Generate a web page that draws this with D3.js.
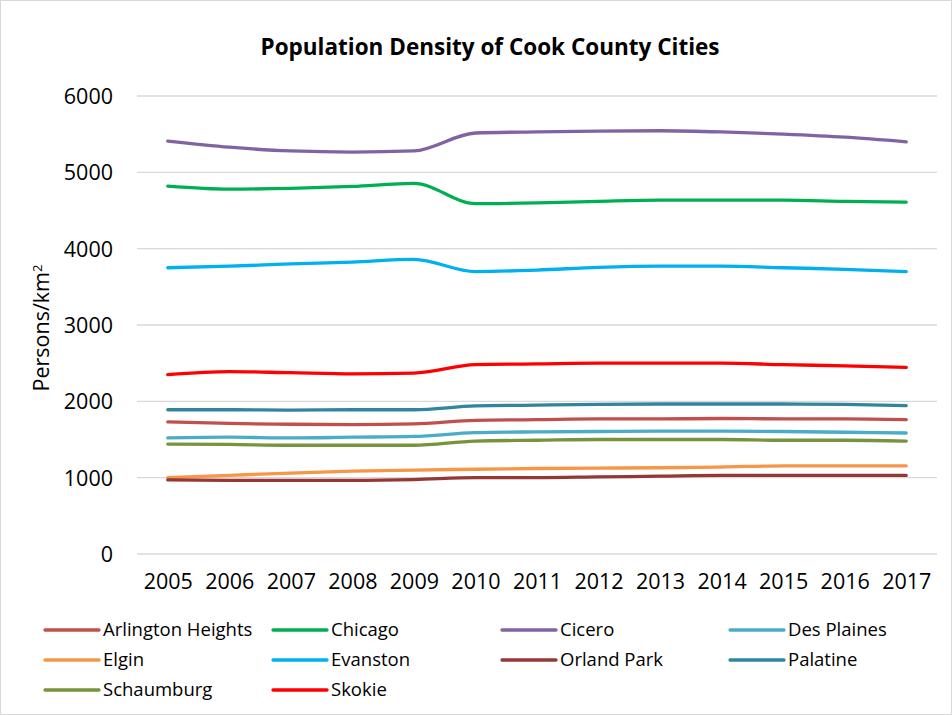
<!DOCTYPE html>
<html>
<head>
<meta charset="utf-8">
<script src="https://cdn.jsdelivr.net/npm/d3@7"></script>
<style>
  html, body { margin: 0; padding: 0; background: #fff; }
  text { font-family: "Open Sans", "Noto Sans", sans-serif; fill: #000; }
</style>
</head>
<body>
<div class="d3Chart"></div>
<script>
//#region data

var years = ["2005", "2006", "2007", "2008", "2009", "2010", "2011", "2012", "2013", "2014", "2015", "2016", "2017"];
var yTicks = [0, 1000, 2000, 3000, 4000, 5000, 6000];

var cities = ["Arlington Heights", "Chicago", "Cicero", "Des Plaines", "Elgin", "Evanston", "Orland Park", "Palatine", "Schaumburg", "Skokie"];

var arlingtonHeights = [1730, 1710, 1700, 1695, 1705, 1750, 1760, 1770, 1770, 1775, 1770, 1770, 1760];
var chicago = [4820, 4780, 4790, 4815, 4855, 4590, 4600, 4620, 4635, 4635, 4635, 4620, 4610];
var cicero = [5410, 5330, 5280, 5265, 5280, 5515, 5530, 5540, 5545, 5530, 5500, 5460, 5400];
var desPlaines = [1520, 1530, 1520, 1530, 1540, 1590, 1600, 1605, 1610, 1610, 1605, 1595, 1585];
var elgin = [1000, 1030, 1060, 1085, 1100, 1110, 1120, 1125, 1130, 1140, 1155, 1155, 1155];
var evanston = [3750, 3770, 3800, 3825, 3860, 3700, 3720, 3755, 3770, 3770, 3750, 3730, 3700];
var orlandPark = [970, 965, 965, 965, 975, 1000, 1000, 1010, 1020, 1030, 1030, 1030, 1030];
var palatine = [1890, 1890, 1885, 1890, 1890, 1940, 1950, 1960, 1965, 1965, 1965, 1960, 1945];
var schaumburg = [1440, 1435, 1425, 1425, 1425, 1480, 1490, 1500, 1500, 1500, 1490, 1490, 1480];
var skokie = [2350, 2390, 2375, 2360, 2370, 2480, 2490, 2500, 2500, 2500, 2480, 2465, 2445];

var seriesValues = [arlingtonHeights, chicago, cicero, desPlaines, elgin, evanston, orlandPark, palatine, schaumburg, skokie];
var colors = ["#C0504D", "#00B050", "#8064A2", "#4BACC6", "#F79646", "#00B0F0", "#953735", "#31859C", "#77933C", "#FF0000"];

//#endregion

//#region canvas

var width = 952;
var height = 715;
var svg = d3.select(".d3Chart")
  .append("svg")
  .attr("width", width)
  .attr("height", height);

svg.append("rect")
  .attr("x", 0.5).attr("y", 0.5)
  .attr("width", width - 1).attr("height", height - 1)
  .attr("fill", "#fff")
  .attr("stroke", "#d9d9d9");

var plotLeft = 137, plotRight = 937, plotTop = 96, plotBottom = 554;

//#endregion

//#region scales

var x = d3.scalePoint().domain(years).range([plotLeft, plotRight]).padding(0.5);
var y = d3.scaleLinear().domain([0, 6000]).range([plotBottom, plotTop]);

//#endregion

//#region axes

// gridlines
svg.append("g")
  .selectAll("line")
  .data(yTicks)
  .enter()
  .append("line")
  .attr("x1", plotLeft)
  .attr("x2", plotRight)
  .attr("y1", d => y(d))
  .attr("y2", d => y(d))
  .attr("stroke", "#d9d9d9")
  .attr("stroke-width", 1.3);

var yAxis = svg.append("g")
  .attr("transform", `translate(${plotLeft - 24},0)`)
  .call(d3.axisLeft(y).tickValues(yTicks).tickSize(0).tickPadding(0).tickFormat(d3.format("d")));
yAxis.select(".domain").remove();
yAxis.selectAll("text").style("font-size", "21.5px").attr("dy", "0.35em");

var xAxis = svg.append("g")
  .attr("transform", `translate(0,${plotBottom + 19})`)
  .call(d3.axisBottom(x).tickSize(0).tickPadding(0));
xAxis.select(".domain").remove();
xAxis.selectAll("text").style("font-size", "21.5px").attr("dy", "0.75em");

// title
svg.append("text")
  .attr("x", 490)
  .attr("y", 55)
  .attr("text-anchor", "middle")
  .style("font-size", "22.5px")
  .style("font-weight", "bold")
  .text("Population Density of Cook County Cities");

// y axis title
var yTitle = svg.append("text")
  .attr("transform", "translate(49,328) rotate(-90)")
  .attr("text-anchor", "middle")
  .style("font-size", "21.5px");
yTitle.append("tspan").text("Persons/km");
yTitle.append("tspan").attr("dy", "-0.55em").style("font-size", "13px").text("2");

//#endregion

//#region lines

var line = d3.line()
  .x((d, i) => x(years[i]))
  .y(d => y(d))
  .curve(d3.curveMonotoneX);

svg.append("g")
  .selectAll("path")
  .data(seriesValues)
  .enter()
  .append("path")
  .attr("d", d => line(d))
  .attr("fill", "none")
  .attr("stroke", (d, i) => colors[i])
  .attr("stroke-width", 3.3)
  .attr("stroke-linecap", "round");

//#endregion

//#region legend

var legendCols = [45, 273, 502, 730];
var legendRows = [630, 660, 690];

var legend = svg.append("g")
  .selectAll("g")
  .data(cities)
  .enter()
  .append("g")
  .attr("transform", (d, i) => `translate(${legendCols[i % 4]},${legendRows[Math.floor(i / 4)]})`);

legend.append("line")
  .attr("x1", 0).attr("x2", 54)
  .attr("y1", 0).attr("y2", 0)
  .attr("stroke", (d, i) => colors[i])
  .attr("stroke-width", 3.3)
  .attr("stroke-linecap", "round");

legend.append("text")
  .attr("x", 58)
  .attr("y", 0)
  .attr("dy", "0.35em")
  .style("font-size", "18.5px")
  .text(d => d);

//#endregion
</script>
</body>
</html>
